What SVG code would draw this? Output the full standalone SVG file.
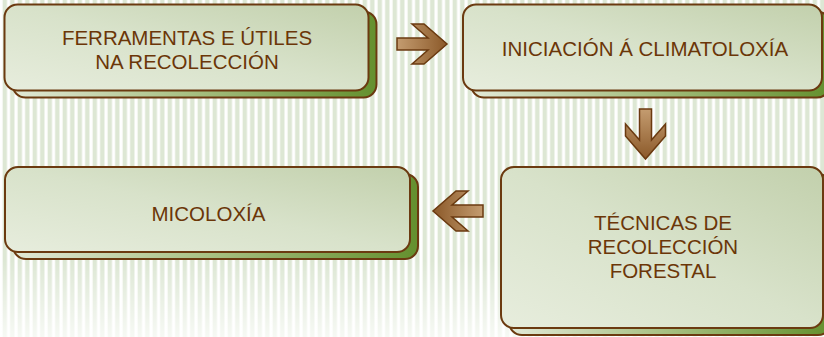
<svg xmlns="http://www.w3.org/2000/svg" width="824" height="337" viewBox="0 0 824 337">
<defs>
<pattern id="stripes" x="0" y="0" width="7.5" height="20" patternUnits="userSpaceOnUse">
<rect x="0" y="0" width="7.5" height="20" fill="#ffffff"/>
<rect x="2.6" y="0" width="4.4" height="20" fill="#dde7d4"/>
</pattern>
<linearGradient id="fade" x1="0" y1="0" x2="0" y2="1">
<stop offset="0" stop-color="#ffffff" stop-opacity="0"/>
<stop offset="1" stop-color="#ffffff" stop-opacity="0.75"/>
</linearGradient>
<linearGradient id="boxFill" x1="0" y1="1" x2="1" y2="0">
<stop offset="0" stop-color="#e7eddd"/>
<stop offset="0.5" stop-color="#d8e2ca"/>
<stop offset="1" stop-color="#c2d0ac"/>
</linearGradient>
<linearGradient id="shadowFill" x1="0" y1="0" x2="1" y2="0">
<stop offset="0" stop-color="#e2e9d7"/>
<stop offset="0.5" stop-color="#a6bf80"/>
<stop offset="1" stop-color="#64902e"/>
</linearGradient>
<linearGradient id="arrowFill" x1="0" y1="0" x2="1" y2="0">
<stop offset="0" stop-color="#c49c70"/>
<stop offset="1" stop-color="#8b5929"/>
</linearGradient>
<path id="arrow" d="M0,-6 L31,-6 L15,-20 L27,-20 L50,0 L27,20 L15,20 L31,6 L0,6 Z"/>
</defs>
<style>
.box{fill:url(#boxFill);stroke:#6b3a10;stroke-width:2}
.shadow{fill:url(#shadowFill);stroke:#6b3a10;stroke-width:2}
.label{font-family:"Liberation Sans",Arial,sans-serif;font-size:20.5px;fill:#6b3608;text-anchor:middle}
.arr{fill:url(#arrowFill);stroke:#6b3a10;stroke-width:1.5;stroke-linejoin:miter}
</style>
<rect x="0" y="0" width="824" height="337" fill="url(#stripes)"/>
<rect x="0" y="260" width="824" height="77" fill="url(#fade)"/>

<g id="connectors">
<use href="#arrow" class="arr" transform="translate(397,44)"/>
<use href="#arrow" class="arr" transform="translate(645.5,109) rotate(90)"/>
<use href="#arrow" class="arr" transform="translate(483,211) rotate(180)"/>
</g>

<g id="node-ferramentas">
<rect class="shadow" x="12.5" y="11.5" width="364" height="86" rx="13"/>
<rect class="box" x="4.5" y="4.5" width="364" height="86" rx="13"/>
<text class="label" x="187" y="45">FERRAMENTAS E ÚTILES</text>
<text class="label" x="187" y="68.5">NA RECOLECCIÓN</text>
</g>

<g id="node-iniciacion">
<rect class="shadow" x="471" y="11.5" width="359" height="86" rx="13"/>
<rect class="box" x="463" y="4.5" width="359" height="86" rx="13"/>
<text class="label" x="645" y="56">INICIACIÓN Á CLIMATOLOXÍA</text>
</g>

<g id="node-tecnicas">
<rect class="shadow" x="509" y="174" width="322" height="161" rx="13"/>
<rect class="box" x="501" y="167" width="322" height="161" rx="13"/>
<text class="label" x="663" y="230">TÉCNICAS DE</text>
<text class="label" x="663" y="254">RECOLECCIÓN</text>
<text class="label" x="663" y="278">FORESTAL</text>
</g>

<g id="node-micoloxia">
<rect class="shadow" x="13" y="174" width="405" height="85" rx="13"/>
<rect class="box" x="5" y="167" width="405" height="85" rx="13"/>
<text class="label" x="208.5" y="220.5">MICOLOXÍA</text>
</g>
</svg>
